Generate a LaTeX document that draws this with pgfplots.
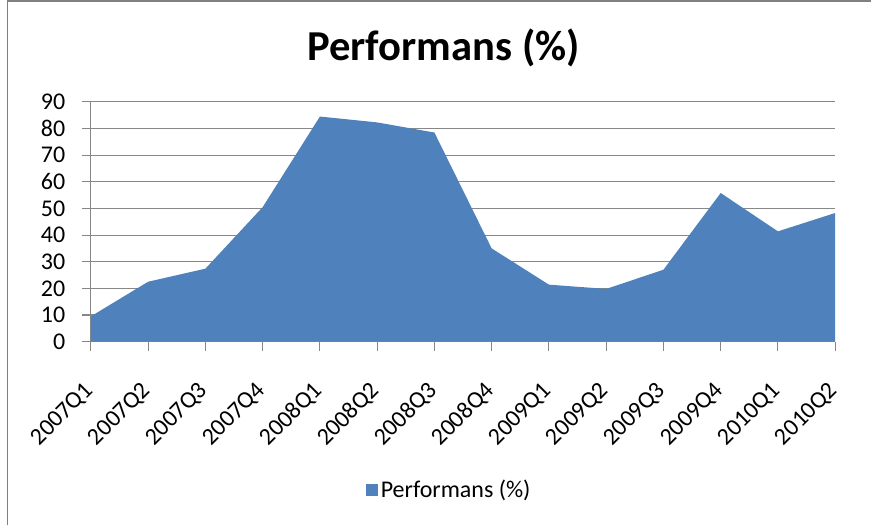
\documentclass[border=0pt]{standalone}
\usepackage{pgfplots}
\pgfplotsset{compat=1.18}
\usepackage{fontspec}
\setmainfont{Carlito}
\definecolor{fillblue}{HTML}{4F81BD}
\definecolor{gridgray}{HTML}{878787}
\definecolor{framegray}{HTML}{808080}
\begin{document}
\begin{tikzpicture}
\path (0pt,0pt) rectangle (654pt,394.5pt);
\draw[framegray, line width=1.3pt] (5.6pt,0pt) -- (5.6pt,393.7pt) -- (654pt,393.7pt);
\node[font=\fontsize{32}{38}\selectfont\bfseries] at (333pt,358.5pt) {Performans (\%)};
\begin{axis}[
  at={(68.25pt,138pt)}, anchor=south west,
  scale only axis, width=558.75pt, height=180pt,
  xmin=0, xmax=13, ymin=0, ymax=90,
  ytick={0,10,...,90},
  xtick={0,...,13},
  xticklabels={2007Q1,2007Q2,2007Q3,2007Q4,2008Q1,2008Q2,2008Q3,2008Q4,2009Q1,2009Q2,2009Q3,2009Q4,2010Q1,2010Q2},
  axis x line=bottom, axis y line=left,
  axis line style={-, gridgray, line width=0.8pt},
  tick align=outside,
  major tick length=6.75pt,
  tick style={gridgray, line width=0.8pt},
  ymajorgrids, grid style={gridgray, line width=0.8pt},
  /pgf/number format/assume math mode=true,
  tick label style={font=\fontsize{18}{22}\selectfont},
  y tick label style={xshift=-9pt},
  x tick label style={yshift=-25pt, xshift=1.5pt, rotate=45, anchor=east},
  legend style={at={(0.482,-0.617)}, anchor=center, draw=none, font=\fontsize{18}{22}\selectfont, legend cell align=left},
  legend image code/.code={\fill[fillblue] (0pt,-4.5pt) rectangle (9pt,4.5pt);},
]
\addplot[fill=fillblue, draw=none] coordinates {
(0,9.5) (1,22.5) (2,27.4) (3,50.5) (4,84.5) (5,82.3) (6,78.5) (7,35) (8,21.4) (9,19.8) (10,27) (11,55.8) (12,41.4) (13,48.3)
} \closedcycle;
\addlegendentry{Performans (\%)}
\end{axis}
\end{tikzpicture}
\end{document}
